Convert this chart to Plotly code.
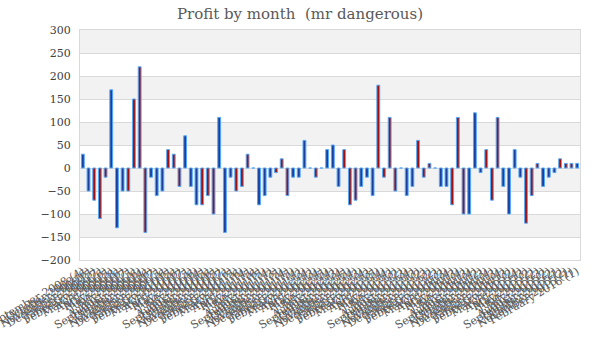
import plotly.graph_objects as go

month_labels = [
    "September 2008 (4)", "October 2008 (6)", "November 2008 (5)", "December 2008 (7)",
    "January 2009 (6)", "February 2009 (5)", "March 2009 (8)", "April 2009 (6)", "May 2009 (7)",
    "June 2009 (5)", "July 2009 (6)", "August 2009 (4)", "September 2009 (6)", "October 2009 (7)",
    "November 2009 (5)", "December 2009 (6)",
    "January 2010 (5)", "February 2010 (6)", "March 2010 (7)", "April 2010 (5)", "May 2010 (6)",
    "June 2010 (4)", "July 2010 (5)", "August 2010 (6)", "September 2010 (5)", "October 2010 (7)",
    "November 2010 (6)", "December 2010 (5)",
    "January 2011 (6)", "February 2011 (4)", "March 2011 (5)", "April 2011 (6)", "May 2011 (5)",
    "June 2011 (4)", "July 2011 (3)", "August 2011 (5)", "September 2011 (4)", "October 2011 (5)",
    "November 2011 (4)", "December 2011 (3)",
    "January 2012 (4)", "February 2012 (3)", "March 2012 (4)", "April 2012 (5)", "May 2012 (4)",
    "June 2012 (3)", "July 2012 (4)", "August 2012 (5)", "September 2012 (4)", "October 2012 (3)",
    "November 2012 (4)", "December 2012 (3)",
    "January 2013 (5)", "February 2013 (4)", "March 2013 (4)", "April 2013 (3)", "May 2013 (2)",
    "June 2013 (3)", "July 2013 (4)", "August 2013 (3)", "September 2013 (2)", "October 2013 (3)",
    "November 2013 (2)", "December 2013 (3)",
    "January 2014 (3)", "February 2014 (4)", "March 2014 (3)", "April 2014 (4)", "May 2014 (3)",
    "June 2014 (4)", "July 2014 (2)", "August 2014 (3)", "September 2014 (4)", "October 2014 (3)",
    "November 2014 (4)", "December 2014 (3)",
    "January 2015 (2)", "February 2015 (4)", "March 2015 (3)", "April 2015 (2)", "May 2015 (2)",
    "June 2015 (3)", "July 2015 (2)", "August 2015 (2)", "September 2015 (1)", "October 2015 (2)",
    "November 2015 (1)", "February 2016 (1)",
]

profit = [
    30, -50, -70, -110, -20, 170, -130, -50, -50, 150,
    220, -140, -20, -60, -50, 40, 30, -40, 70, -40,
    -80, -80, -60, -100, 110, -140, -20, -50, -40, 30,
    0, -80, -60, -20, -10, 20, -60, -20, -20, 60,
    0, -20, 0, 40, 50, -40, 40, -80, -70, -40,
    -20, -60, 180, -20, 110, -50, 0, -60, -40, 60,
    -20, 10, 0, -40, -40, -80, 110, -100, -100, 120,
    -10, 40, -70, 110, -40, -100, 40, -20, -120, -60,
    10, -40, -20, -10, 20, 10, 10, 10,
]

group = [
    "B", "B", "R", "R", "R", "B", "B", "B", "R", "R",
    "R", "R", "B", "B", "B", "R", "R", "R", "B", "B",
    "B", "R", "R", "R", "B", "B", "B", "R", "R", "R",
    "R", "B", "B", "B", "R", "R", "R", "B", "B", "B",
    "B", "R", "R", "B", "B", "B", "R", "R", "R", "B",
    "B", "B", "R", "R", "R", "R", "R", "B", "B", "R",
    "R", "R", "R", "B", "B", "R", "R", "R", "B", "B",
    "B", "R", "R", "R", "B", "B", "B", "B", "R", "R",
    "R", "B", "B", "B", "R", "R", "R", "B",
]

y_ticks = [300, 250, 200, 150, 100, 50, 0, -50, -100, -150, -200]

fill_map = {"B": "#1a3f9c", "R": "#a01010"}
colors = [fill_map[g] for g in group]

fig = go.Figure()
fig.add_trace(go.Bar(
    x=month_labels, y=profit,
    marker=dict(color=colors, line=dict(color="#55a8f7", width=1)),
    width=0.5,
))

shapes = []
for lo in [250, 150, 50, -50, -150]:
    shapes.append(dict(type="rect", xref="paper", yref="y", x0=0, x1=1, y0=lo, y1=lo + 50,
                       fillcolor="#f2f2f2", line=dict(width=0), layer="below"))

fig.update_layout(
    width=600, height=360,
    margin=dict(l=80, r=20, t=30, b=100),
    paper_bgcolor="white", plot_bgcolor="white",
    title=dict(text="Profit by month  (mr dangerous)", x=0.5, xanchor="center",
               y=0.961, yanchor="middle",
               font=dict(family="DejaVu Serif", size=15, color="#595959")),
    shapes=shapes,
    showlegend=False,
)
fig.update_xaxes(
    type="category", tickangle=-30, automargin=False,
    tickmode="array", tickvals=month_labels, ticktext=month_labels,
    tickfont=dict(family="DejaVu Serif", size=11, color="#595959"),
    showgrid=False, showline=True, linecolor="#d9d9d9", mirror=True, ticks="",
)
fig.update_yaxes(
    range=[-200, 300], tickvals=y_ticks, automargin=False,
    tickfont=dict(family="DejaVu Serif", size=11, color="#404040"),
    ticklabelstandoff=6,
    showgrid=True, gridcolor="#d9d9d9", gridwidth=1,
    zeroline=False, showline=True, linecolor="#d9d9d9", mirror=True, ticks="",
)

fig.write_html("out.html", config={"displayModeBar": False},
               post_script="document.body.style.margin='0px';")
